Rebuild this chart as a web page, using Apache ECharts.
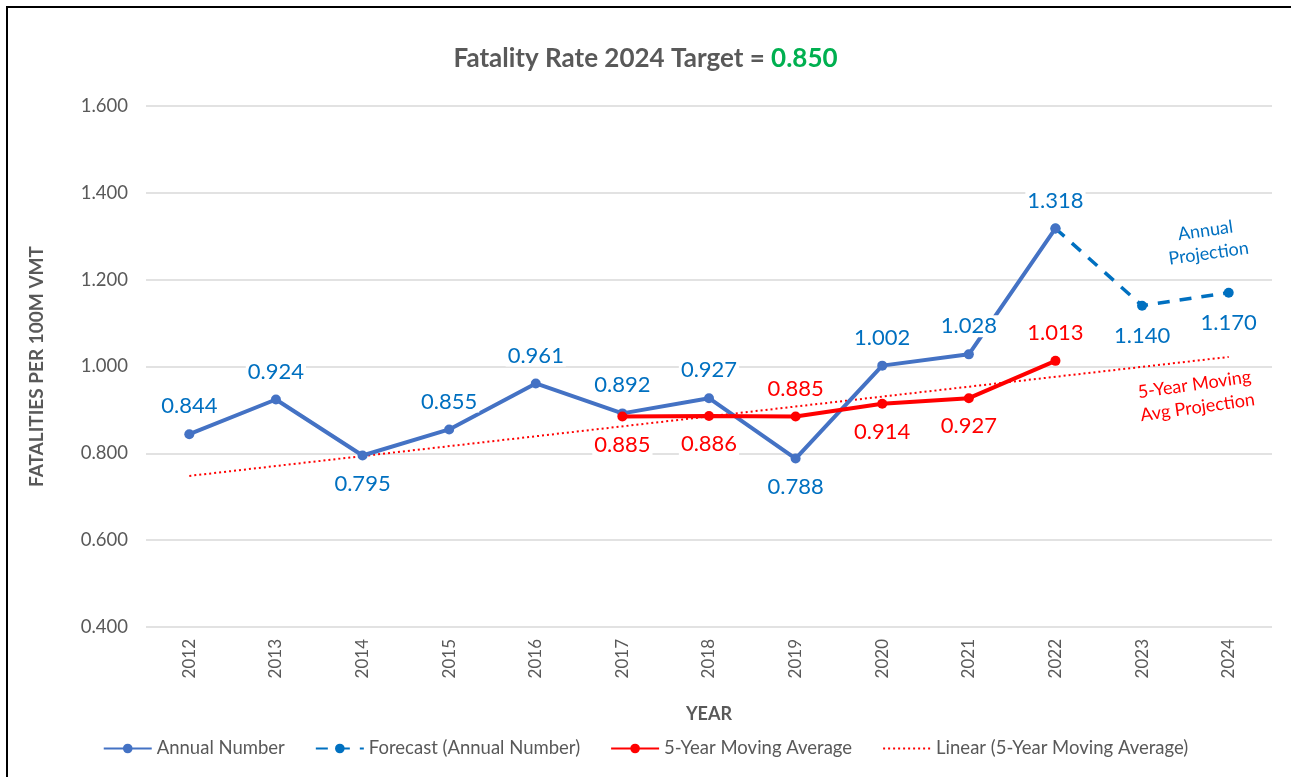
<!DOCTYPE html>
<html>
<head>
<meta charset="utf-8">
<script src="https://cdn.jsdelivr.net/npm/echarts@6/dist/echarts.min.js"></script>
<style>
  html, body { margin: 0; padding: 0; background: #fff; overflow: hidden; width: 1291px; height: 777px; }
  #frame { position: absolute; left: 6px; top: 6px; width: 1400px; height: 900px;
           border-left: 2px solid #000; border-top: 2px solid #000; pointer-events: none; }
  #main { position: absolute; left: 0; top: 0; width: 1291px; height: 777px; }
</style>
</head>
<body>
<div id="main"></div>
<div id="frame"></div>
<script>
var years = ['2012', '2013', '2014', '2015', '2016', '2017', '2018', '2019', '2020', '2021', '2022', '2023', '2024'];
var annual = [0.844, 0.924, 0.795, 0.855, 0.961, 0.892, 0.927, 0.788, 1.002, 1.028, 1.318, null, null];
var forecast = [null, null, null, null, null, null, null, null, null, null, 1.318, 1.140, 1.170];
var movingAvg = [null, null, null, null, null, 0.885, 0.886, 0.885, 0.914, 0.927, 1.013, null, null];
var trendLine = [0.748, null, null, null, null, null, null, null, null, null, null, null, 1.022];

// label placement per point
var annualPos = ['top', 'top', 'bottom', 'top', 'top', 'top', 'top', 'bottom', 'top', 'top', 'top', 'top', 'top'];
var maPos = ['top', 'top', 'top', 'top', 'top', 'bottom', 'bottom', 'top', 'bottom', 'bottom', 'top', 'top', 'top'];

var font = 'Lato';
var grey = '#595959';

function withPos(vals, pos) {
  return vals.map(function (v, i) {
    return { value: v, label: { position: pos[i] } };
  });
}

var chartDom = document.getElementById('main');
var myChart = echarts.init(chartDom, null, { renderer: 'canvas' });

var valLabel = {
  show: true,
  fontSize: 22,
  fontFamily: font,
  distance: 12,
  backgroundColor: '#fff',
  padding: [0, 2],
  formatter: function (p) { return p.value == null ? '' : p.value.toFixed(3); }
};

var option = {
  animation: false,
  textStyle: { fontFamily: font },
  title: {
    text: '{a|Fatality Rate 2024 Target = }{b|0.850}',
    left: 'center',
    top: 41,
    textStyle: {
      rich: {
        a: { fontSize: 26, fontWeight: 'bold', color: grey, fontFamily: font },
        b: { fontSize: 26, fontWeight: 'bold', color: '#00B050', fontFamily: font }
      }
    }
  },
  grid: { left: 146, right: 19, top: 106, bottom: 150, containLabel: false },
  legend: {
    bottom: 14,
    left: 'center',
    itemWidth: 48,
    itemHeight: 12,
    itemGap: 30,
    textStyle: { fontSize: 18.5, color: grey, fontFamily: font },
    data: [
      'Annual Number',
      'Forecast (Annual Number)',
      '5-Year Moving Average',
      { name: 'Linear (5-Year Moving Average)', itemStyle: { color: 'transparent', borderWidth: 0 } }
    ]
  },
  xAxis: {
    type: 'category',
    data: years,
    name: 'YEAR',
    nameLocation: 'middle',
    nameGap: 78,
    nameTextStyle: { fontSize: 18, fontWeight: 'bold', color: grey, fontFamily: font },
    axisLine: { show: false },
    axisTick: { show: false },
    axisLabel: { rotate: 90, fontSize: 17, color: grey, margin: 12, fontFamily: font }
  },
  yAxis: {
    type: 'value',
    min: 0.4,
    max: 1.6,
    interval: 0.2,
    name: 'FATALITIES PER 100M VMT',
    nameLocation: 'middle',
    nameGap: 100,
    nameTextStyle: { fontSize: 19, fontWeight: 'bold', color: grey, fontFamily: font },
    axisLine: { show: false },
    axisTick: { show: false },
    axisLabel: {
      fontSize: 18.5, color: grey, margin: 18, fontFamily: font,
      formatter: function (v) { return v.toFixed(3); }
    },
    splitLine: { lineStyle: { color: '#d9d9d9', width: 1.5 } }
  },
  graphic: [
    {
      type: 'text',
      x: 1207, y: 242,
      rotation: 8 * Math.PI / 180,
      style: {
        text: 'Annual\nProjection',
        fill: '#0070C0',
        font: '18px ' + font,
        align: 'center',
        verticalAlign: 'middle',
        lineHeight: 23
      }
    },
    {
      type: 'text',
      x: 1196, y: 396,
      rotation: 8 * Math.PI / 180,
      style: {
        text: '5-Year Moving\nAvg Projection',
        fill: '#FF0000',
        font: '18px ' + font,
        align: 'center',
        verticalAlign: 'middle',
        lineHeight: 23
      }
    }
  ],
  series: [
    {
      name: 'Linear (5-Year Moving Average)',
      type: 'line',
      data: trendLine,
      connectNulls: true,
      symbol: 'none',
      color: '#FF0000',
      lineStyle: { color: '#FF0000', width: 2, type: [2, 3] },
      z: 1
    },
    {
      name: 'Forecast (Annual Number)',
      type: 'line',
      data: forecast,
      symbol: 'circle',
      symbolSize: 10,
      color: '#0070C0',
      lineStyle: { color: '#0070C0', width: 3.5, type: [12, 10] },
      label: Object.assign({}, valLabel, {
        color: '#0070C0',
        position: 'bottom',
        distance: 14,
        formatter: function (p) { return p.dataIndex === 10 ? '' : p.value.toFixed(3); }
      }),
      z: 2
    },
    {
      name: 'Annual Number',
      type: 'line',
      data: withPos(annual, annualPos),
      symbol: 'circle',
      symbolSize: 10,
      color: '#4472C4',
      lineStyle: { color: '#4472C4', width: 4 },
      label: Object.assign({}, valLabel, { color: '#0070C0' }),
      z: 3
    },
    {
      name: '5-Year Moving Average',
      type: 'line',
      data: withPos(movingAvg, maPos),
      symbol: 'circle',
      symbolSize: 10,
      color: '#FF0000',
      lineStyle: { color: '#FF0000', width: 4 },
      label: Object.assign({}, valLabel, { color: '#FF0000' }),
      z: 4
    }
  ]
};

myChart.setOption(option);
</script>
</body>
</html>
